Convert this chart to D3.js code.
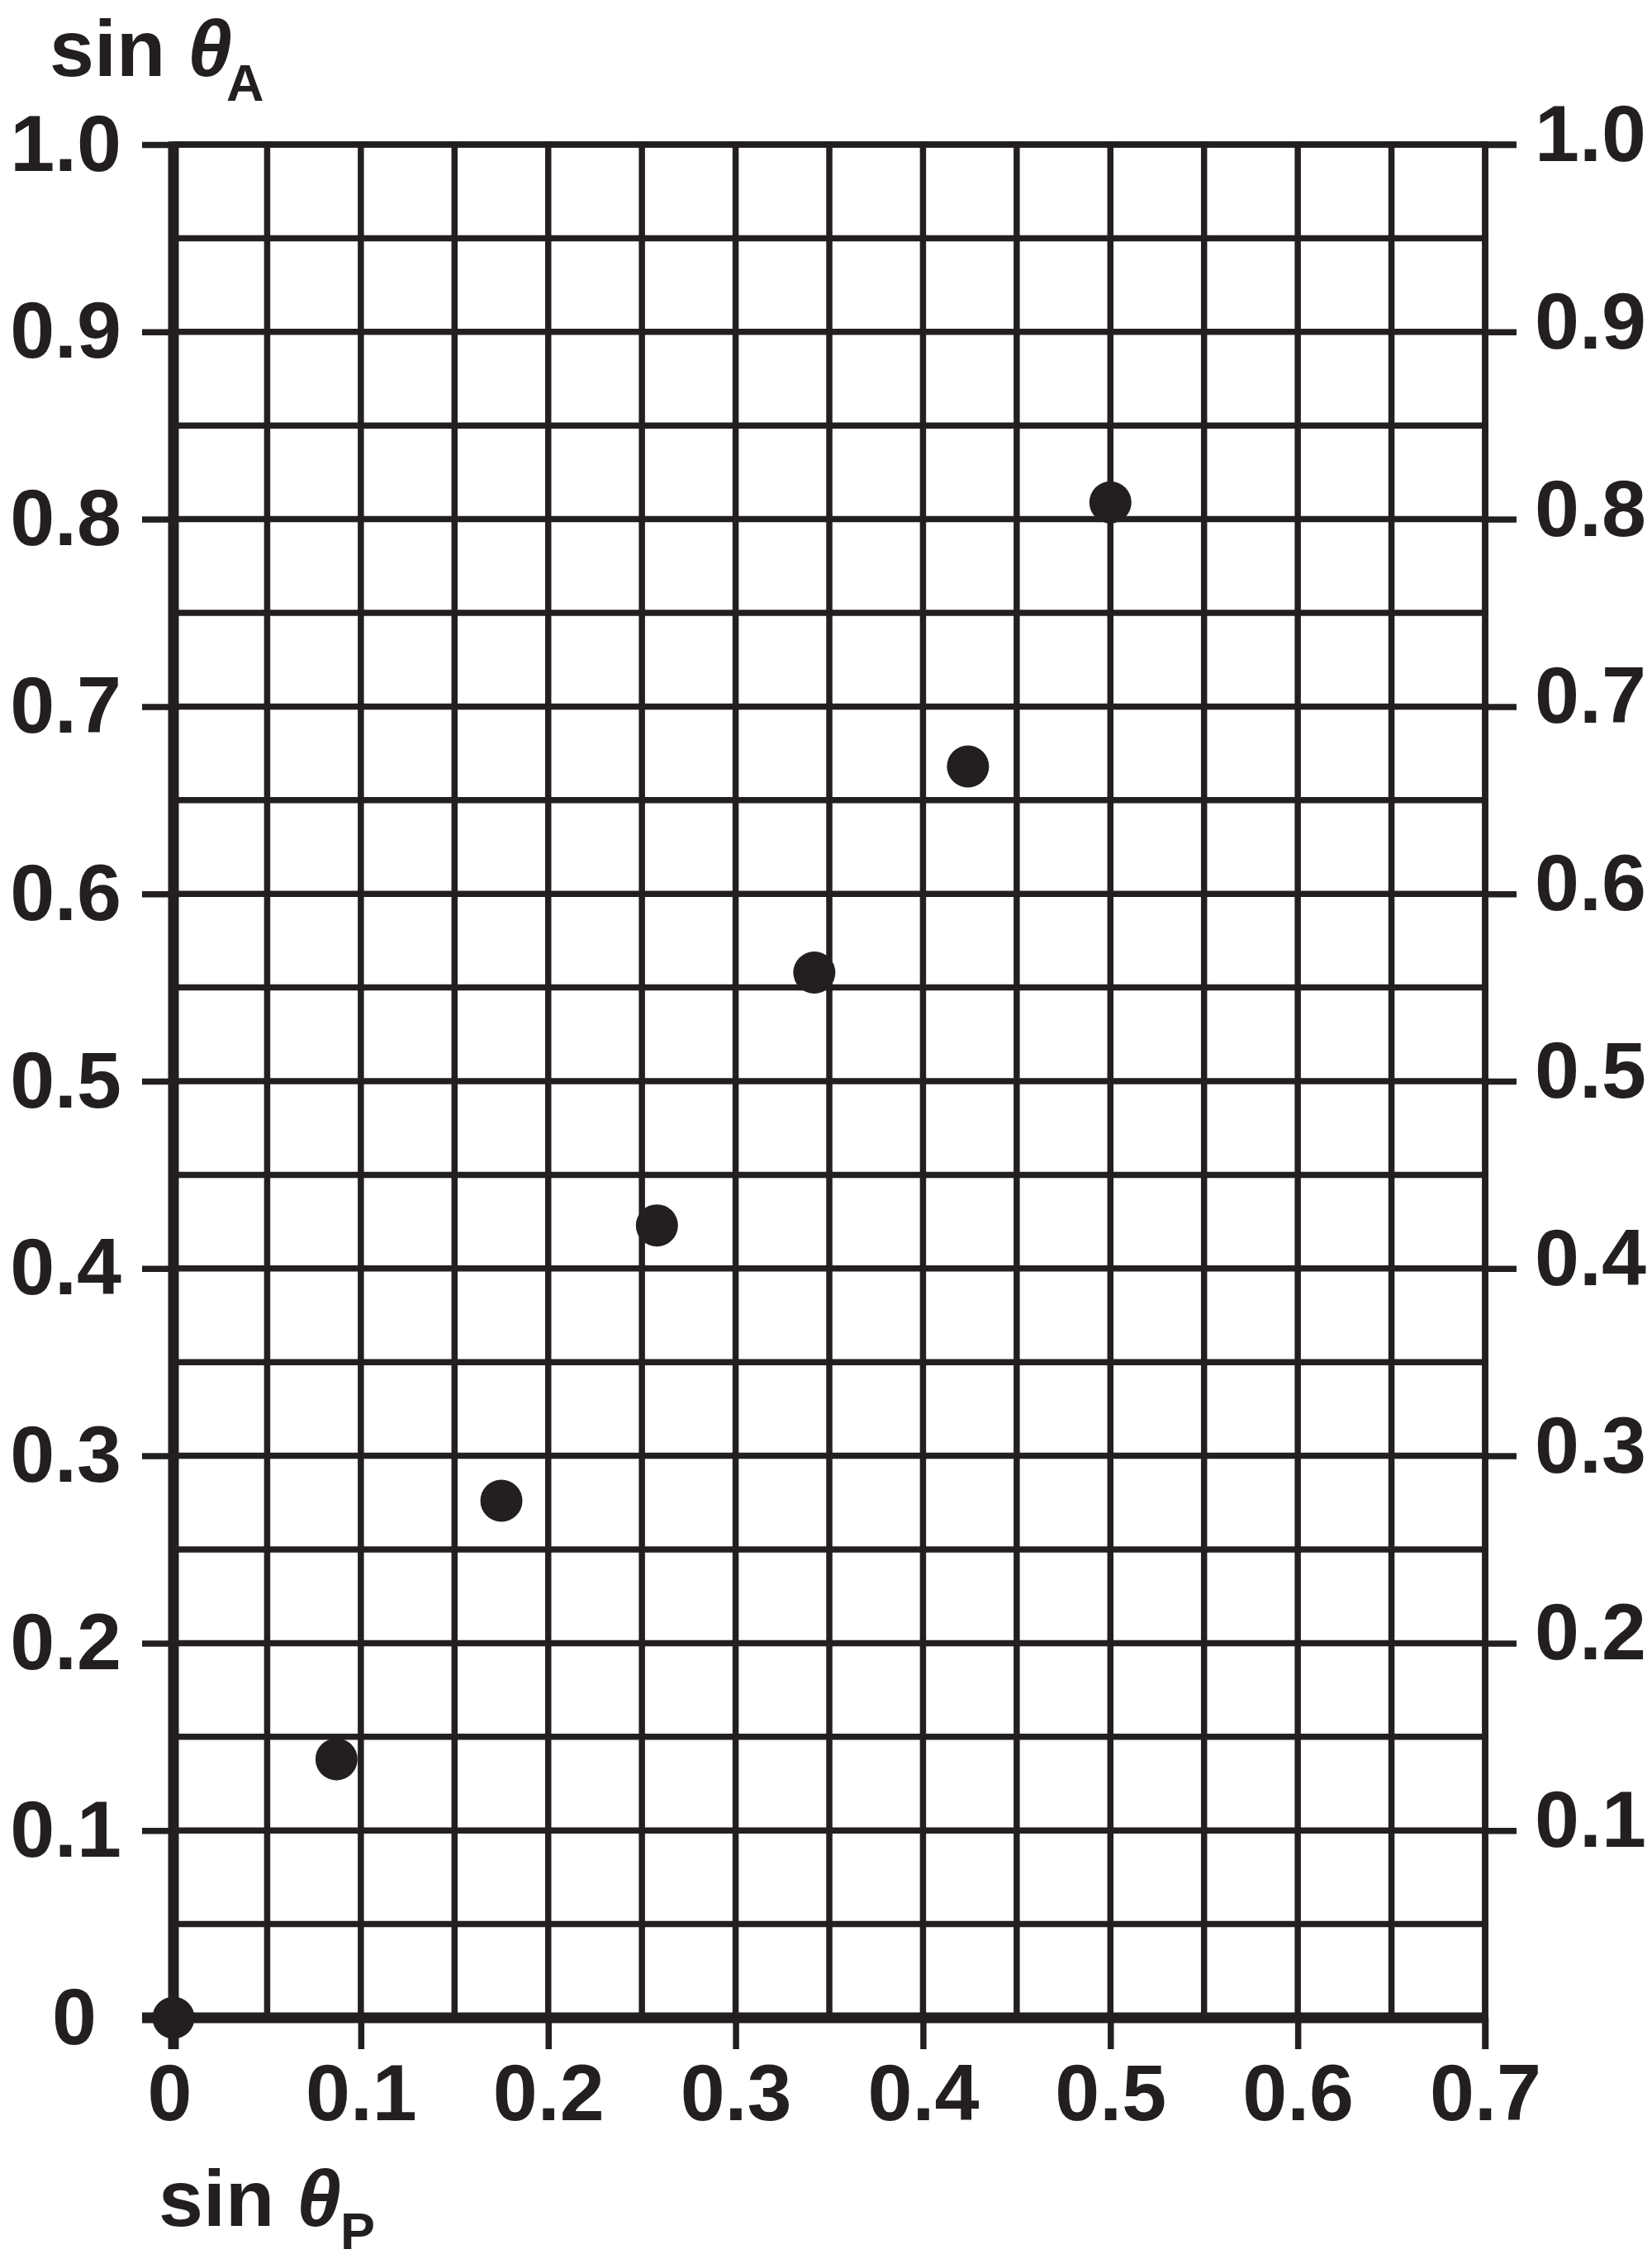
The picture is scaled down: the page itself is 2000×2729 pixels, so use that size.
<!DOCTYPE html>
<html>
<head>
<meta charset="utf-8">
<script src="https://cdn.jsdelivr.net/npm/d3@7"></script>
<style>
  html, body { margin: 0; padding: 0; background: #ffffff; }
  svg { display: block; }
  text { font-family: "Liberation Sans", Arial, Helvetica, sans-serif; font-weight: bold; fill: #231f20; }
</style>
</head>
<body>
<script>
// ---- data ----
const sinP = [0, 0.087, 0.175, 0.258, 0.342, 0.424, 0.500];
const sinA = [0, 0.138, 0.276, 0.423, 0.558, 0.668, 0.809];
const xTickValues = [0, 0.1, 0.2, 0.3, 0.4, 0.5, 0.6, 0.7];
const xTickLabels = ["0", "0.1", "0.2", "0.3", "0.4", "0.5", "0.6", "0.7"];
const yTickValues = [0, 0.1, 0.2, 0.3, 0.4, 0.5, 0.6, 0.7, 0.8, 0.9, 1.0];
const yTickLabels = ["0", "0.1", "0.2", "0.3", "0.4", "0.5", "0.6", "0.7", "0.8", "0.9", "1.0"];
const yRightTickValues = [0.1, 0.2, 0.3, 0.4, 0.5, 0.6, 0.7, 0.8, 0.9, 1.0];
const yRightTickLabels = ["0.1", "0.2", "0.3", "0.4", "0.5", "0.6", "0.7", "0.8", "0.9", "1.0"];
const xGridValues = d3.range(1, 15).map(i => i * 0.05);
const yGridValues = d3.range(1, 21).map(i => i * 0.05);

// ---- layout ----
const W = 2000, H = 2729;
const INK = "#231f20";
const THIN = 7.5, THICK = 13, TICK = 38, FS = 97;

const x = d3.scaleLinear().domain([0, 0.7]).range([210, 1798]);
const y = d3.scaleLinear().domain([0, 1.0]).range([2443, 175]);

const svg = d3.select("body").append("svg")
  .attr("width", W).attr("height", H).attr("viewBox", `0 0 ${W} ${H}`);

// grid
const grid = svg.append("g").attr("stroke", INK).attr("stroke-width", THIN);
grid.selectAll("line.v").data(xGridValues).join("line")
  .attr("class", "v")
  .attr("x1", d => x(d)).attr("x2", d => x(d))
  .attr("y1", y(0)).attr("y2", y(1) - THIN / 2);
grid.selectAll("line.h").data(yGridValues).join("line")
  .attr("class", "h")
  .attr("x1", x(0)).attr("x2", x(0.7) + THIN / 2)
  .attr("y1", d => y(d)).attr("y2", d => y(d));

// axes (ticks + labels)
function styleAxis(g) {
  g.select(".domain").remove();
  g.selectAll(".tick line").attr("stroke", INK).attr("stroke-width", THIN);
  g.selectAll(".tick text").attr("fill", INK).style("font-size", FS + "px")
    .style("font-weight", "bold").attr("font-family", null);
}

const fmtLeft = d => yTickLabels[yTickValues.findIndex(v => Math.abs(v - d) < 1e-9)];
const fmtRight = d => yRightTickLabels[yRightTickValues.findIndex(v => Math.abs(v - d) < 1e-9)];
const fmtBottom = d => xTickLabels[xTickValues.findIndex(v => Math.abs(v - d) < 1e-9)];

const gLeft = svg.append("g").attr("transform", `translate(${x(0)},0)`)
  .call(d3.axisLeft(y).tickValues(yTickValues).tickSize(TICK).tickPadding(25).tickFormat(fmtLeft))
  .call(styleAxis);
gLeft.selectAll(".tick text").attr("dy", "0.32em")
  .attr("x", d => d === 0 ? -(TICK + 25 + 30) : -(TICK + 25));

const gRight = svg.append("g").attr("transform", `translate(${x(0.7)},0)`)
  .call(d3.axisRight(y).tickValues(yRightTickValues).tickSize(TICK).tickPadding(22).tickFormat(fmtRight))
  .call(styleAxis);
gRight.selectAll(".tick text").attr("dy", "0.2em");

const gBottom = svg.append("g").attr("transform", `translate(0,${y(0)})`)
  .call(d3.axisBottom(x).tickValues(xTickValues).tickSize(TICK).tickPadding(17).tickFormat(fmtBottom))
  .call(styleAxis);
gBottom.selectAll(".tick text").attr("x", d => d === 0 ? -5 : 0);

// frame: thin top & right, thick left & bottom
svg.append("line").attr("stroke", INK).attr("stroke-width", THIN)
  .attr("x1", x(0)).attr("x2", x(0.7) + TICK).attr("y1", y(1)).attr("y2", y(1));
svg.append("line").attr("stroke", INK).attr("stroke-width", THIN)
  .attr("x1", x(0.7)).attr("x2", x(0.7)).attr("y1", y(1) - THIN / 2).attr("y2", y(0) + TICK);
svg.append("line").attr("stroke", INK).attr("stroke-width", THICK)
  .attr("x1", x(0)).attr("x2", x(0)).attr("y1", y(1) - THIN / 2).attr("y2", y(0) + TICK);
svg.append("line").attr("stroke", INK).attr("stroke-width", THICK)
  .attr("x1", x(0) - TICK).attr("x2", x(0.7) + THIN / 2).attr("y1", y(0)).attr("y2", y(0));

// points
svg.append("g").selectAll("circle").data(sinP.map((v, i) => [v, sinA[i]])).join("circle")
  .attr("cx", d => x(d[0])).attr("cy", d => y(d[1])).attr("r", 25.5).attr("fill", INK);

// axis titles
function axisTitle(x0, baseline, sub, subDrop) {
  const g = svg.append("g");
  g.append("text").attr("x", x0 - 3).attr("y", baseline).style("font-size", FS + "px").text("sin");
  g.append("text").attr("x", x0 + 164).attr("y", baseline).style("font-size", FS + "px")
    .style("font-style", "italic").text("θ");
  g.append("text").attr("x", x0 + (sub === "A" ? 211 : 217)).attr("y", baseline + subDrop)
    .style("font-size", "63px").text(sub);
}
axisTitle(63, 92, "A", 30);
axisTitle(195, 2695, "P", 28);
</script>
</body>
</html>
